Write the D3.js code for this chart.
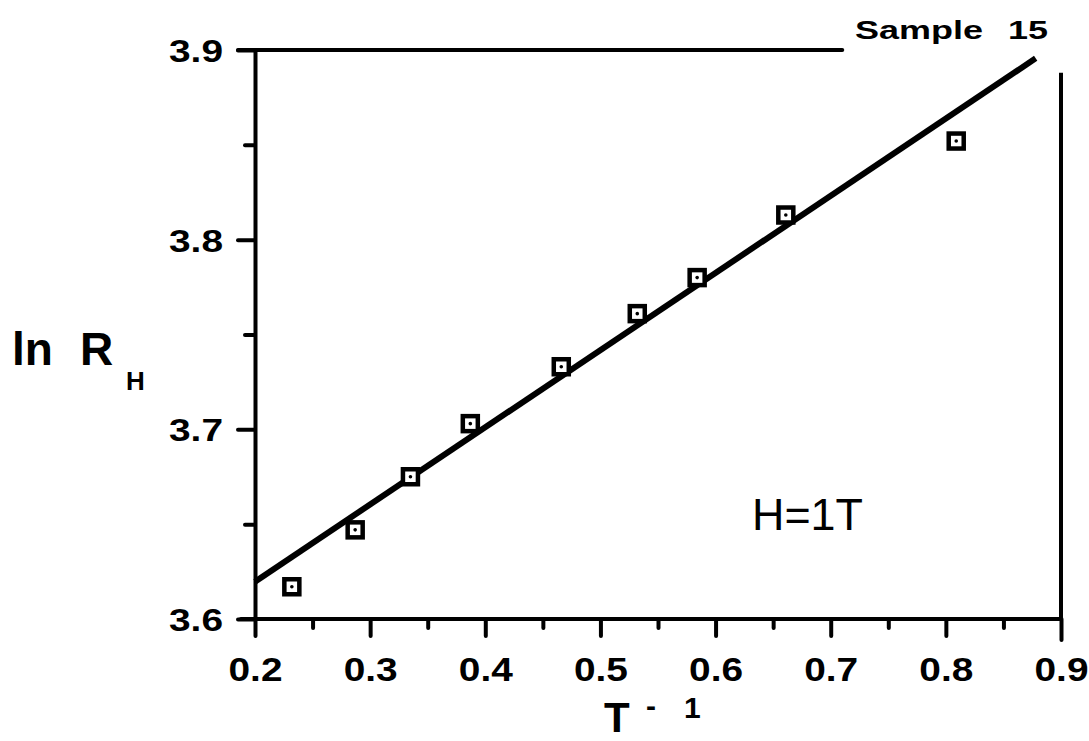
<!DOCTYPE html>
<html>
<head>
<meta charset="utf-8">
<script src="https://cdn.jsdelivr.net/npm/d3@7"></script>
<style>
  body { margin: 0; background: #fff; }
  svg { display: block; }
  text { font-family: "Liberation Sans", Arial, sans-serif; fill: #000; }
</style>
</head>
<body>
<svg width="1089" height="741"></svg>
<script>
"use strict";

// measured points, T^-1 against ln R_H
var invT = [0.232, 0.287, 0.335, 0.387, 0.466, 0.532, 0.584, 0.661, 0.809];
var lnRH = [3.617, 3.647, 3.675, 3.703, 3.733, 3.761, 3.780, 3.813, 3.852];

// straight line drawn through them (end points)
var fitX = [0.2, 0.878];
var fitY = [3.6197, 3.8956];

var xTicks = [0.2, 0.3, 0.4, 0.5, 0.6, 0.7, 0.8, 0.9];
var xMinor = [0.25, 0.35, 0.45, 0.55, 0.65, 0.75, 0.85];
var yTicks = [3.6, 3.7, 3.8, 3.9];
var yMinor = [3.65, 3.75, 3.85];

var svg = d3.select("svg");

var x = d3.scaleLinear().domain([0.2, 0.9]).range([255, 1061]);
var y = d3.scaleLinear().domain([3.6, 3.9]).range([619, 50]);

var fmt = d3.format(".1f");

// x axis: minor then major ticks
svg.append("g")
    .attr("transform", "translate(0," + y(3.6) + ")")
    .call(d3.axisBottom(x).tickValues(xMinor).tickSize(9).tickSizeOuter(0).tickFormat(""))
    .call(function(g) { g.select(".domain").remove(); });

var xAxis = svg.append("g")
    .attr("transform", "translate(0," + y(3.6) + ")")
    .call(d3.axisBottom(x).tickValues(xTicks).tickSize(17).tickSizeOuter(0).tickPadding(45).tickFormat(fmt));

xAxis.selectAll("text")
    .style("font-size", "33px")
    .style("font-weight", "bold")
    .attr("textLength", 54)
    .attr("lengthAdjust", "spacingAndGlyphs")
    .attr("dy", "0");

// the last tick runs a bit further down with the frame
xAxis.selectAll(".tick").filter(function(d) { return d === 0.9; }).select("line").attr("y2", 21);

// y axis
svg.append("g")
    .attr("transform", "translate(" + x(0.2) + ",0)")
    .call(d3.axisLeft(y).tickValues(yMinor).tickSize(10).tickSizeOuter(0).tickFormat(""))
    .call(function(g) { g.select(".domain").remove(); });

var yAxis = svg.append("g")
    .attr("transform", "translate(" + x(0.2) + ",0)")
    .call(d3.axisLeft(y).tickValues(yTicks).tickSize(17).tickSizeOuter(0).tickPadding(15).tickFormat(fmt));

yAxis.selectAll("text")
    .style("font-size", "32px")
    .style("font-weight", "bold")
    .attr("textLength", 54)
    .attr("lengthAdjust", "spacingAndGlyphs")
    .attr("dy", "0.36em");

svg.selectAll(".domain, .tick line")
    .attr("stroke", "#000")
    .attr("stroke-width", 4)
    .attr("stroke-linecap", "round");

// x axis line extends past the left axis slightly
xAxis.select(".domain").attr("d", "M" + (x(0.2) - 14) + ",0H" + x(0.9));

// frame: top line stops before the title, right line
svg.append("line")
    .attr("x1", x(0.2) - 17).attr("x2", x(0.71))
    .attr("y1", y(3.9)).attr("y2", y(3.9))
    .attr("stroke", "#000").attr("stroke-width", 4).attr("stroke-linecap", "round");

svg.append("line")
    .attr("x1", x(0.9)).attr("x2", x(0.9))
    .attr("y1", y(3.888)).attr("y2", y(3.6))
    .attr("stroke", "#000").attr("stroke-width", 4);

// fitted line
svg.append("line")
    .attr("x1", x(fitX[0])).attr("y1", y(fitY[0]))
    .attr("x2", x(fitX[1])).attr("y2", y(fitY[1]))
    .attr("stroke", "#000")
    .attr("stroke-width", 6);

// square markers with a dot
var pts = svg.append("g").selectAll("g")
    .data(invT.map(function(v, i) { return [v, lnRH[i]]; }))
    .enter().append("g")
    .attr("transform", function(d) { return "translate(" + x(d[0]) + "," + y(d[1]) + ")"; });

pts.append("rect")
    .attr("x", -7.5).attr("y", -7.5)
    .attr("width", 15).attr("height", 15)
    .attr("fill", "#fff")
    .attr("stroke", "#000")
    .attr("stroke-width", 4.5);

pts.append("circle")
    .attr("r", 1.8)
    .attr("fill", "#000");

// labels
svg.append("text")
    .attr("x", 855).attr("y", 39)
    .style("font-size", "25px").style("font-weight", "bold")
    .attr("textLength", 128)
    .attr("lengthAdjust", "spacingAndGlyphs")
    .text("Sample");

svg.append("text")
    .attr("x", 1008).attr("y", 39)
    .style("font-size", "25px").style("font-weight", "bold")
    .attr("textLength", 40)
    .attr("lengthAdjust", "spacingAndGlyphs")
    .text("15");

svg.append("text")
    .attr("x", 752).attr("y", 530)
    .style("font-size", "45px")
    .attr("textLength", 111)
    .attr("lengthAdjust", "spacingAndGlyphs")
    .text("H=1T");

var yl = svg.append("text")
    .attr("x", 12).attr("y", 365)
    .style("font-size", "46px").style("font-weight", "bold");
yl.append("tspan").text("ln");
yl.append("tspan").attr("x", 80).text("R");
yl.append("tspan").attr("x", 126).attr("y", 390).style("font-size", "26px").text("H");

var xl = svg.append("text")
    .attr("x", 604).attr("y", 732)
    .style("font-size", "42px").style("font-weight", "bold");
xl.append("tspan").text("T");
xl.append("tspan").attr("x", 646).attr("y", 716).style("font-size", "30px").text("-");
xl.append("tspan").attr("x", 684).attr("y", 718).style("font-size", "30px").text("1");
</script>
</body>
</html>
